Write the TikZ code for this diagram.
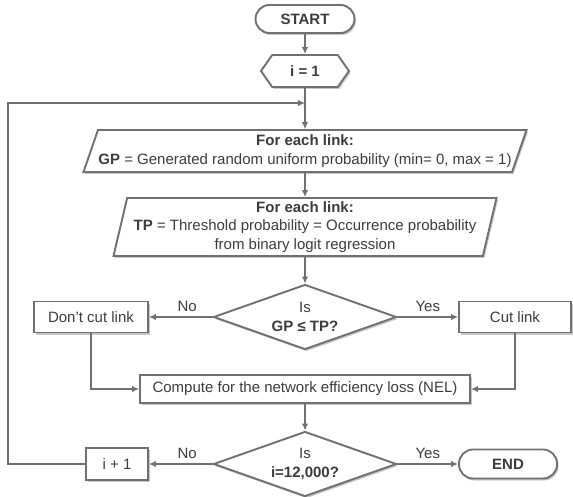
\documentclass[tikz,border=0pt]{standalone}
\usepackage{fontspec}
\setmainfont{Liberation Sans}
\usetikzlibrary{shapes.geometric,shapes.symbols,shadows,arrows.meta}

\definecolor{lineclr}{RGB}{112,112,112}
\definecolor{textclr}{RGB}{60,60,60}

\begin{document}
\begin{tikzpicture}[
    x=1pt, y=-1pt,
    font=\fontsize{15}{18.5}\selectfont,
    every node/.style = {text=textclr},
    base/.style = {draw=lineclr, line width=1.9pt, fill=white, align=center,
                   drop shadow={shadow xshift=1.5pt, shadow yshift=-2pt,
                                fill=black, opacity=0.22}},
    terminal/.style = {base, rectangle, rounded corners=14pt, inner sep=0pt,
                       font=\fontsize{15}{18.5}\selectfont\bfseries},
    process/.style = {base, rectangle, inner sep=0pt},
    hexa/.style = {base, signal, signal to=east and west,
                   signal pointer angle=110, inner sep=0pt},
    inout/.style = {base, trapezium, trapezium stretches body, inner sep=0pt},
    decision/.style = {base, diamond, aspect=2.8, inner sep=0pt,
                       minimum width=183pt, minimum height=65pt},
    arr/.style = {-{Latex[length=7pt,width=6.5pt]}, draw=lineclr, line width=1.9pt},
    lbl/.style = {above=3pt, inner sep=1pt}
]
\useasboundingbox (0,0) rectangle (573,497);

% Start and counter
\node[terminal, minimum width=99pt, minimum height=28pt] (start) at (305,19) {START};
\node[hexa, font=\fontsize{15}{18.5}\selectfont\bfseries,
      minimum width=88pt, minimum height=32pt] (init) at (305,71) {i = 1};

% Link probabilities
\node[inout, trapezium left angle=66, trapezium right angle=114,
      minimum width=443pt, minimum height=42pt] (gp) at (305,151)
      {\textbf{For each link:}\\\textbf{GP} = Generated random uniform probability (min= 0, max = 1)};
\node[inout, trapezium left angle=75, trapezium right angle=105,
      minimum width=383pt, minimum height=58pt] (tp) at (305,227)
      {\textbf{For each link:}\\\textbf{TP} = Threshold probability = Occurrence probability\\from binary logit regression};

% Cut decision
\node[decision] (cutq) at (305,317) {Is\\\textbf{GP ≤ TP?}};
\node[process, minimum width=114pt, minimum height=31pt] (keep) at (91,317) {Don’t cut link};
\node[process, minimum width=112pt, minimum height=31pt] (cut) at (515,317) {Cut link};

% Efficiency loss
\node[process, minimum width=330pt, minimum height=28pt] (nel) at (305,389)
      {Compute for the network efficiency loss (NEL)};

% Stop decision
\node[decision] (endq) at (305,464) {Is\\\textbf{i=12,000?}};
\node[process, minimum width=62pt, minimum height=32pt] (incr) at (117,464) {i + 1};
\node[terminal, minimum width=98pt, minimum height=29pt] (stop) at (508,464) {END};

\coordinate (loopleft) at (8,103);
\coordinate (loopjoin) at (305,103);

% Connectors
\draw[arr] (start) -- (init);
\draw[arr] (init) -- (gp);
\draw[arr] (gp) -- (tp);
\draw[arr] (tp) -- (cutq);
\draw[arr] (cutq) -- node[lbl, pos=0.4] {No} (keep);
\draw[arr] (cutq) -- node[lbl] {Yes} (cut);
\draw[arr] (keep.south) |- (nel.west);
\draw[arr] (cut.south) |- (nel.east);
\draw[arr] (nel) -- (endq);
\draw[arr] (endq) -- node[lbl, pos=0.4] {No} (incr);
\draw[arr] (endq) -- node[lbl] {Yes} (stop);
\draw[arr] (incr.west) -| (loopleft) -- (loopjoin);

\end{tikzpicture}
\end{document}
